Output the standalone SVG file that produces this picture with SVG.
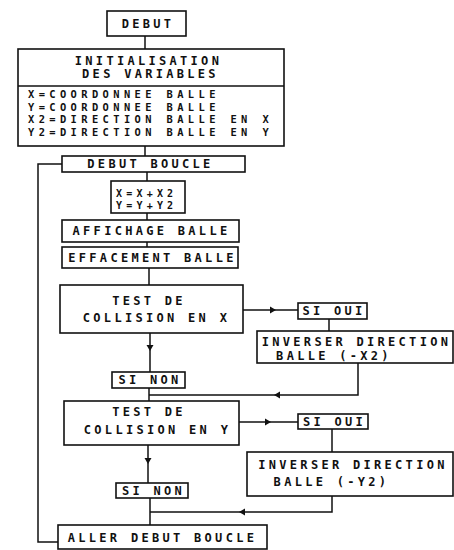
<svg xmlns="http://www.w3.org/2000/svg" width="454" height="550" viewBox="0 0 454 550">
<style>
rect{fill:#fff;stroke:#111;stroke-width:1.6}
.ln{fill:none;stroke:#111;stroke-width:1.5}
text{font-family:"DejaVu Sans Mono","Liberation Mono",monospace;font-size:12px;font-weight:bold;letter-spacing:3.3px;fill:#111}
.c{text-anchor:middle}
.s{font-size:10.4px;letter-spacing:4.4px}
.t{font-size:10px;letter-spacing:4.2px}
.ah{fill:#111}
</style>
<rect x="0" y="0" width="454" height="550" style="fill:#fff;stroke:none"/>
<g id="connectors">
<path class="ln" d="M145,36V49"/>
<path class="ln" d="M145,146V156"/>
<path class="ln" d="M147,172V181"/>
<path class="ln" d="M147,213V220"/>
<path class="ln" d="M147,242V247"/>
<path class="ln" d="M149,268V285"/>
<path class="ln" d="M243,310H298"/>
<polygon class="ah" points="276,310 270,306.5 270,313.5"/>
<path class="ln" d="M329,319V331"/>
<path class="ln" d="M358,363V395H149"/>
<polygon class="ah" points="274,395 280,391.5 280,398.5"/>
<path class="ln" d="M150,333V372"/>
<polygon class="ah" points="150,351 146.5,345 153.5,345"/>
<path class="ln" d="M149,388V401"/>
<path class="ln" d="M239,422H298"/>
<polygon class="ah" points="271,422 265,418.5 265,425.5"/>
<path class="ln" d="M332,429V452"/>
<path class="ln" d="M332,496V512H150"/>
<polygon class="ah" points="239,512 245,508.5 245,515.5"/>
<path class="ln" d="M148,445V483"/>
<polygon class="ah" points="148,464 144.5,458 151.5,458"/>
<path class="ln" d="M150,498V525"/>
<path class="ln" d="M58,542H38V164H62"/>
</g>
<g id="debut">
<rect x="107" y="11" width="79" height="25"/>
<text class="c" x="148" y="28">DEBUT</text>
</g>
<g id="init">
<rect x="18" y="49" width="266" height="97"/>
<path class="ln" d="M18,86H284"/>
<text class="c" x="148.5" y="65">INITIALISATION</text>
<text class="c" x="150.5" y="78">DES VARIABLES</text>
<text class="s" x="28" y="98">X=COORDONNEE BALLE</text>
<text class="s" x="28" y="110.5">Y=COORDONNEE BALLE</text>
<text class="s" x="28" y="123">X2=DIRECTION BALLE EN X</text>
<text class="s" x="28" y="135.5">Y2=DIRECTION BALLE EN Y</text>
</g>
<g id="debut-boucle">
<rect x="62" y="156" width="183" height="16"/>
<text class="c" x="150.5" y="168">DEBUT BOUCLE</text>
</g>
<g id="calc">
<rect x="111" y="181" width="74" height="32"/>
<text class="t" x="116" y="196.5">X=X+X2</text>
<text class="t" x="116" y="208.5">Y=Y+Y2</text>
</g>
<g id="affichage">
<rect x="62" y="220" width="177" height="22"/>
<text class="c" x="151.5" y="235">AFFICHAGE BALLE</text>
</g>
<g id="effacement">
<rect x="62" y="247" width="176" height="21"/>
<text class="c" x="152.5" y="262">EFFACEMENT BALLE</text>
</g>
<g id="test-x">
<rect x="60" y="285" width="183" height="48"/>
<text class="c" x="149" y="305">TEST DE</text>
<text class="c" x="156.5" y="322">COLLISION EN X</text>
</g>
<g id="si-oui-x">
<rect x="298" y="303" width="69" height="16"/>
<text class="c" x="334" y="315">SI OUI</text>
</g>
<g id="inverser-x">
<rect x="257" y="331" width="196" height="32"/>
<text class="c" x="356.5" y="346">INVERSER DIRECTION</text>
<text class="c" x="334" y="360">BALLE (-X2)</text>
</g>
<g id="si-non-x">
<rect x="112" y="372" width="73" height="16"/>
<text class="c" x="150" y="384">SI NON</text>
</g>
<g id="test-y">
<rect x="64" y="401" width="175" height="44"/>
<text class="c" x="149" y="416">TEST DE</text>
<text class="c" x="157.5" y="434">COLLISION EN Y</text>
</g>
<g id="si-oui-y">
<rect x="298" y="414" width="70" height="15"/>
<text class="c" x="334.5" y="426">SI OUI</text>
</g>
<g id="inverser-y">
<rect x="247" y="452" width="206" height="44"/>
<text class="c" x="353" y="469">INVERSER DIRECTION</text>
<text class="c" x="331.5" y="486">BALLE (-Y2)</text>
</g>
<g id="si-non-y">
<rect x="116" y="483" width="72" height="15"/>
<text class="c" x="153.5" y="495">SI NON</text>
</g>
<g id="aller">
<rect x="58" y="525" width="209" height="24"/>
<text class="c" x="162.5" y="542">ALLER DEBUT BOUCLE</text>
</g>
</svg>
